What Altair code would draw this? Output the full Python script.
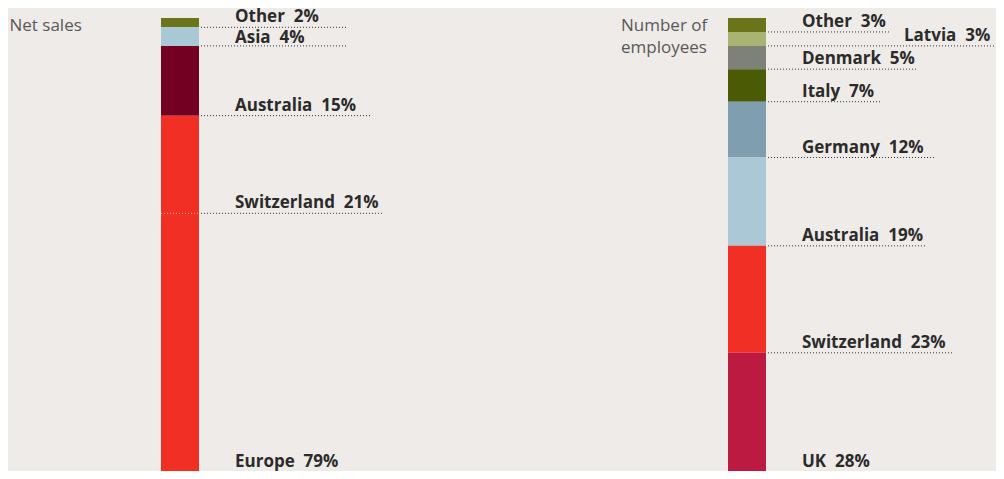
import altair as alt
import pandas as pd

# ---------------- data ----------------
PANELS = ["sales", "employees"]
TITLES = ["Net sales", "Number of\nemployees"]

SALES_REGIONS = ["Other", "Asia", "Australia", "Europe"]
SALES_SHARE = [2, 4, 15, 79]
SALES_SUB_LABEL = "Switzerland"   # part of Europe
SALES_SUB_SHARE = 21

EMP_COUNTRIES = ["Other", "Latvia", "Denmark", "Italy", "Germany",
                 "Australia", "Switzerland", "UK"]
EMP_SHARE = [3, 3, 5, 7, 12, 19, 23, 28]

# ---------------- styles ----------------
COLORS = {
    "sales|Other": "#6b741a",
    "sales|Asia": "#a9c8d5",
    "sales|Australia": "#730022",
    "sales|Europe": "#f12f24",
    "employees|Other": "#6b741a",
    "employees|Latvia": "#aab472",
    "employees|Denmark": "#7e8175",
    "employees|Italy": "#4b5a05",
    "employees|Germany": "#7f9fb0",
    "employees|Australia": "#aac8d5",
    "employees|Switzerland": "#f12f24",
    "employees|UK": "#bd1a41",
}
# dotted leader line end, relative to bar centre (px)
LINE_END = {
    "sales|Other": 168, "sales|Asia": 168, "sales|Australia": 190,
    "sales|Switzerland": 204, "sales|Europe": 196,
    "employees|Other": 143, "employees|Latvia": 262, "employees|Denmark": 171,
    "employees|Italy": 133, "employees|Germany": 188, "employees|Australia": 180,
    "employees|Switzerland": 205, "employees|UK": 160,
}
LABEL_DX = {"employees|Latvia": 157}
LABEL_DY = {"sales|Other": -5, "sales|Asia": -3,
            "sales|Europe": -16, "employees|UK": -16}
DEFAULT_DX = 55
DEFAULT_DY = -5
TITLE_DX = [-170.5, -126]

FONT = "Open Sans"
LABEL_COLOR = "#2b2b2b"
TITLE_COLOR = "#58585a"
BG = "#efebe8"

# ---------------- table ----------------
rows = []
def add(panel, labels, shares):
    cum = 0
    for lab, s in zip(labels, shares):
        rows.append(dict(panel=panel, col=PANELS.index(panel), label=lab, share=s,
                         start=cum, end=cum + s, kind="segment"))
        cum += s

add("sales", SALES_REGIONS, SALES_SHARE)
add("employees", EMP_COUNTRIES, EMP_SHARE)
europe_start = [r for r in rows if r["panel"] == "sales" and r["label"] == "Europe"][0]["start"]
rows.append(dict(panel="sales", col=0, label=SALES_SUB_LABEL, share=SALES_SUB_SHARE,
                 start=europe_start, end=europe_start + SALES_SUB_SHARE, kind="sub"))

df = pd.DataFrame(rows)
df["key"] = df["panel"] + "|" + df["label"]
df["text"] = df["label"] + "\u00a0\u00a0" + df["share"].astype(str) + "%"

titles = pd.DataFrame({"col": [0, 1], "title": TITLES})

xscale = alt.Scale(domain=[0, 1], range=[172, 739], padding=0, nice=False, zero=False)
yscale = alt.Scale(domain=[0, 100], range=[0, 465], nice=False)
X = alt.X("col:Q", scale=xscale, axis=None)
X2 = alt.X2("col")
Y = alt.Y("end:Q", scale=yscale, axis=None)

base = alt.Chart(df)

bars = base.transform_filter(alt.datum.kind == "segment").mark_bar(size=38).encode(
    x=X,
    y=alt.Y("start:Q", scale=yscale, axis=None),
    y2="end:Q",
    color=alt.Color("key:N", scale=alt.Scale(domain=list(COLORS.keys()),
                                             range=list(COLORS.values())), legend=None),
)

inner = base.transform_filter(alt.datum.kind == "sub").mark_rule(
    strokeDash=[1, 2], color="#ffffff", opacity=0.6, strokeWidth=1,
    xOffset=-19, x2Offset=19,
).encode(x=X, x2=X2, y=Y)

layers = [bars, inner]
for key, end in LINE_END.items():
    layers.append(
        base.transform_filter(alt.datum.key == key).mark_rule(
            strokeDash=[1, 2], color="#333333", strokeWidth=1,
            xOffset=21, x2Offset=end,
        ).encode(x=X, x2=X2, y=Y)
    )

for key in df["key"]:
    layers.append(
        base.transform_filter(alt.datum.key == key).mark_text(
            align="left", baseline="alphabetic",
            dx=LABEL_DX.get(key, DEFAULT_DX), dy=LABEL_DY.get(key, DEFAULT_DY),
            font=FONT, fontSize=17, fontWeight="bold", color=LABEL_COLOR,
        ).encode(x=X, y=Y, text="text:N")
    )

for i, dx in enumerate(TITLE_DX):
    layers.append(
        alt.Chart(titles).transform_filter(alt.datum.col == i).mark_text(
            align="left", baseline="alphabetic", dx=dx, dy=13,
            lineBreak="\n", lineHeight=22,
            font=FONT, fontSize=17, color=TITLE_COLOR,
        ).encode(x=X, y=alt.Y(datum=0, scale=yscale, axis=None), text="title:N")
    )

chart = alt.layer(*layers).properties(
    width=988, height=453,
    autosize=alt.AutoSizeParams(type="none"),
    padding={"left": 0, "top": 10, "right": 0, "bottom": 0},
    background=BG,
).configure_view(stroke=None)

chart.save("out.html", embed_options={"renderer": "svg", "actions": False})
